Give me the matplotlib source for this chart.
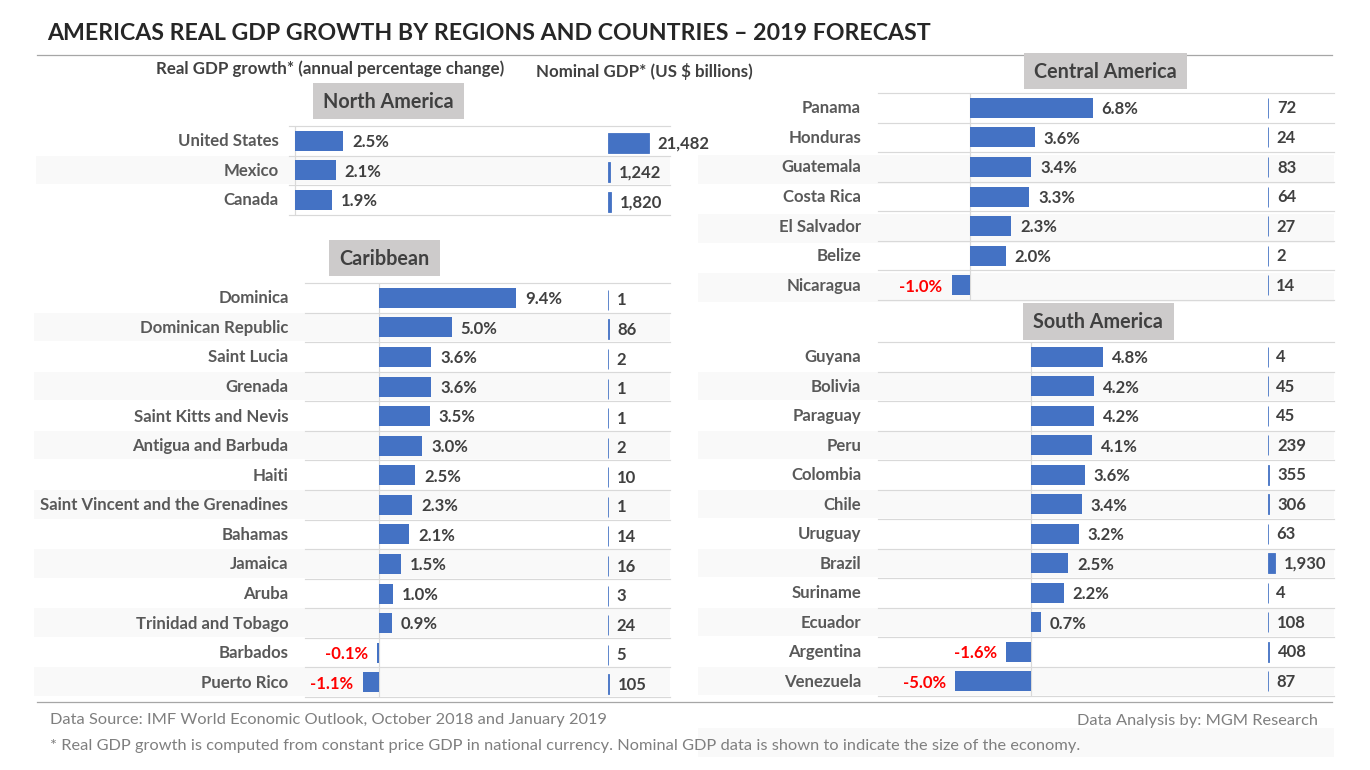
from matplotlib import pyplot as plt
from matplotlib.patches import Rectangle
from matplotlib.transforms import ScaledTranslation

plt.rcParams['font.family'] = ['Lato', 'DejaVu Sans']

W = 1370
H = 770
BLUE = '#4472c4'
DARK = '#404040'
GREY = '#7f7f7f'
LINE = '#d9d9d9'
STRIPE = '#f9f9f9'
BOX = '#cdcbcb'
PT = 0.72  # points per pixel at dpi 100

north_names = ['United States', 'Mexico', 'Canada']
north_growth = [2.5, 2.1, 1.9]
north_nominal = [21482, 1242, 1820]

carib_names = ['Dominica', 'Dominican Republic', 'Saint Lucia', 'Grenada', 'Saint Kitts and Nevis',
               'Antigua and Barbuda', 'Haiti', 'Saint Vincent and the Grenadines', 'Bahamas', 'Jamaica',
               'Aruba', 'Trinidad and Tobago', 'Barbados', 'Puerto Rico']
carib_growth = [9.4, 5.0, 3.6, 3.6, 3.5, 3.0, 2.5, 2.3, 2.1, 1.5, 1.0, 0.9, -0.1, -1.1]
carib_nominal = [1, 86, 2, 1, 1, 2, 10, 1, 14, 16, 3, 24, 5, 105]

central_names = ['Panama', 'Honduras', 'Guatemala', 'Costa Rica', 'El Salvador', 'Belize', 'Nicaragua']
central_growth = [6.8, 3.6, 3.4, 3.3, 2.3, 2.0, -1.0]
central_nominal = [72, 24, 83, 64, 27, 2, 14]

south_names = ['Guyana', 'Bolivia', 'Paraguay', 'Peru', 'Colombia', 'Chile', 'Uruguay', 'Brazil',
               'Suriname', 'Ecuador', 'Argentina', 'Venezuela']
south_growth = [4.8, 4.2, 4.2, 4.1, 3.6, 3.4, 3.2, 2.5, 2.2, 0.7, -1.6, -5.0]
south_nominal = [4, 45, 45, 239, 355, 306, 63, 1930, 4, 108, 408, 87]


def pixel_axes(fig, left, top, right, bottom):
    ax = fig.add_axes([left / W, 1 - bottom / H, (right - left) / W, (bottom - top) / H])
    ax.patch.set_alpha(0)
    for s in ax.spines.values():
        s.set_visible(False)
    ax.set_xticks([])
    return ax


def draw_panel(fig, bg, names, growth, nominal, title, box, top, bottom, line_x0, line_x1, label_x,
               stripe_x0, stripe_first, stripe_dy, zero_x, pct_px, nom_x, nom_px, nom_dy):
    n = len(names)
    row = (bottom - top) / n
    bar_h = 20.0 / row

    # stripes and row rules
    for i in range(stripe_first, n, 2):
        bg.add_patch(Rectangle((stripe_x0, top + i * row + stripe_dy), line_x1 - stripe_x0, row - 1,
                               fc=STRIPE, ec='none'))
    for i in range(n + 1):
        bg.plot([line_x0, line_x1], [top + i * row] * 2, color=LINE, lw=0.85)

    # region heading
    bg.add_patch(Rectangle((box[0], box[1]), box[2] - box[0], box[3] - box[1], fc=BOX, ec='none', zorder=5))
    bg.text((box[0] + box[2]) / 2 - 0.5, (box[1] + box[3]) / 2 + 1, title, ha='center', va='center',
            fontsize=14.2, fontweight='bold', color=DARK, zorder=6)

    # growth bars
    ax = pixel_axes(fig, line_x0, top, nom_x, bottom)
    ax.set_xlim((line_x0 - zero_x) / pct_px, (nom_x - zero_x) / pct_px)
    ax.set_ylim(n - 0.5, -0.5)
    ax.barh(range(n), growth, height=bar_h, color=BLUE, linewidth=0)
    ax.axvline(0, color=LINE, lw=0.85, zorder=0)
    ax.set_yticks(range(n))
    ax.set_yticklabels(names, fontsize=12.1, fontweight='bold', color='#595959')
    ax.tick_params(axis='y', length=0, pad=(line_x0 - label_x) * PT)
    for lab in ax.get_yticklabels():
        lab.set_transform(lab.get_transform() + ScaledTranslation(0, 0.01, fig.dpi_scale_trans))
    for i, v in enumerate(growth):
        if v < 0:
            ax.annotate('%.1f%%' % v, (v, i), xytext=(-6.5, -1), textcoords='offset points', ha='right',
                        va='center', fontsize=12, fontweight='bold', color='#ff0000')
        else:
            ax.annotate('%.1f%%' % v, (v, i), xytext=(6.5, -1), textcoords='offset points', ha='left',
                        va='center', fontsize=12, fontweight='bold', color=DARK)

    # nominal GDP bars
    ax2 = pixel_axes(fig, nom_x, top + nom_dy, line_x1, bottom + nom_dy)
    ax2.set_xlim(0, (line_x1 - nom_x) / nom_px)
    ax2.set_ylim(n - 0.5, -0.5)
    ax2.barh(range(n), nominal, height=bar_h, color=BLUE, edgecolor=BLUE, linewidth=0.6)
    ax2.set_yticks([])
    for i, v in enumerate(nominal):
        ax2.annotate(format(v, ','), (v, i), xytext=(6.2, -0.5), textcoords='offset points', ha='left',
                     va='center', fontsize=12, fontweight='bold', color=DARK)


fig = plt.figure(figsize=(W / 100, H / 100), dpi=100)
bg = fig.add_axes([0, 0, 1, 1])
bg.set_xlim(0, W)
bg.set_ylim(H, 0)
bg.axis('off')

bg.add_patch(Rectangle((698, 728), 636, 29, fc=STRIPE, ec='none'))
bg.plot([37, 1332], [55, 55], color='#a6a6a6', lw=0.9)
bg.plot([37, 1332], [702, 702], color='#a6a6a6', lw=0.9)

draw_panel(fig, bg, north_names, north_growth, north_nominal, 'North America', (313, 83, 464, 119),
           126, 214.5, 289, 670, 279, 36, 1, 0, 295.3, 19.2, 608, 0.0019, 2)
draw_panel(fig, bg, carib_names, carib_growth, carib_nominal, 'Caribbean', (329, 240, 440, 276),
           283, 697, 305, 670, 288.5, 34, 1, 0, 378.6, 14.6, 608, 0.01, 2)
draw_panel(fig, bg, central_names, central_growth, central_nominal, 'Central America', (1024, 53, 1187, 89),
           93, 300, 878.5, 1334, 861, 698, 2, 3, 969.6, 18.1, 1267.5, 0.01, 0)
draw_panel(fig, bg, south_names, south_growth, south_nominal, 'South America', (1023, 303, 1174, 340),
           342, 696, 878.5, 1334, 861, 698, 1, 0, 1030.5, 15.1, 1267.5, 0.0041, 0)

bg.text(47, 33, 'AMERICAS REAL GDP GROWTH BY REGIONS AND COUNTRIES \u2013 2019 FORECAST', ha='left', va='center',
        fontsize=16.7, fontweight='bold', color='#262626')
bg.text(156, 69, 'Real GDP growth* (annual percentage change)', ha='left', va='center',
        fontsize=12.12, fontweight='bold', color=DARK)
bg.text(536, 71, 'Nominal GDP* (US $ billions)', ha='left', va='center',
        fontsize=12.15, fontweight='bold', color=DARK)
bg.text(50, 720, 'Data Source: IMF World Economic Outlook, October 2018 and January 2019', ha='left', va='center',
        fontsize=11.75, color=GREY)
bg.text(50, 746, '* Real GDP growth is computed from constant price GDP in national currency. '
        'Nominal GDP data is shown to indicate the size of the economy.', ha='left', va='center',
        fontsize=11.8, color=GREY)
bg.text(1318, 721, 'Data Analysis by: MGM Research', ha='right', va='center', fontsize=11.75, color=GREY)

fig.savefig('out.png', dpi=100)
